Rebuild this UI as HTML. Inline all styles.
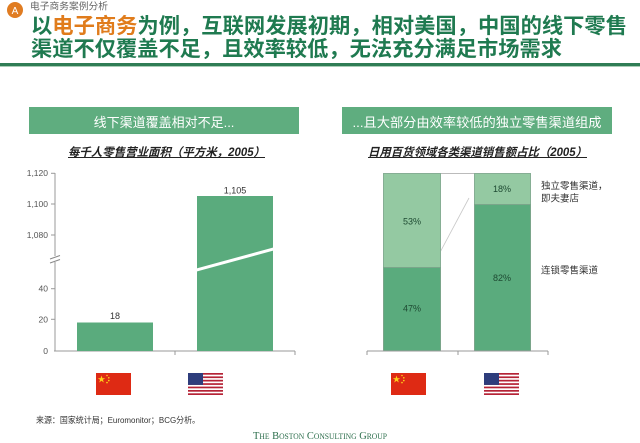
<!DOCTYPE html>
<html><head><meta charset="utf-8"><style>
html,body{margin:0;padding:0;background:#fff;}
svg{display:block;}
text{font-family:"Liberation Sans","Noto Sans CJK SC",sans-serif;}
</style></head><body>
<svg width="640" height="443" viewBox="0 0 640 443" xmlns="http://www.w3.org/2000/svg">
<rect width="640" height="443" fill="#fff"/>
<!-- header -->
<circle cx="15" cy="10" r="8" fill="#e07c22"/>
<text x="15" y="14" font-size="10" fill="#fff" text-anchor="middle">A</text>
<text x="30" y="9.5" font-size="9.8" fill="#666" textLength="78" lengthAdjust="spacingAndGlyphs">电子商务案例分析</text>
<text x="31" y="33" font-size="21" font-weight="bold" fill="#1f7a50" textLength="596" lengthAdjust="spacingAndGlyphs">以<tspan fill="#e07c1c">电子商务</tspan>为例，互联网发展初期，相对美国，中国的线下零售</text>
<text x="31" y="56" font-size="21" font-weight="bold" fill="#1f7a50" textLength="531" lengthAdjust="spacingAndGlyphs">渠道不仅覆盖不足，且效率较低，无法充分满足市场需求</text>
<rect x="0" y="63" width="640" height="3" fill="#2f7d55"/>
<rect x="0" y="66" width="640" height="1" fill="#a9cdb6"/>

<!-- section boxes -->
<rect x="29" y="107" width="270" height="27" fill="#5fad7f"/>
<text x="164" y="127" font-size="13" fill="#fff" text-anchor="middle">线下渠道覆盖相对不足...</text>
<rect x="342" y="107" width="270" height="27" fill="#5fad7f"/>
<text x="477" y="127" font-size="13" fill="#fff" text-anchor="middle" textLength="249" lengthAdjust="spacingAndGlyphs">...且大部分由效率较低的独立零售渠道组成</text>

<!-- subtitles -->
<text x="68" y="156" font-size="11.5" font-weight="bold" font-style="italic" fill="#222" textLength="197" lengthAdjust="spacingAndGlyphs">每千人零售营业面积（平方米，2005）</text>
<line x1="68" y1="157.5" x2="265" y2="157.5" stroke="#222" stroke-width="1"/>
<text x="368" y="156" font-size="11.5" font-weight="bold" font-style="italic" fill="#222" textLength="219" lengthAdjust="spacingAndGlyphs">日用百货领域各类渠道销售额占比（2005）</text>
<line x1="368" y1="157.5" x2="587" y2="157.5" stroke="#222" stroke-width="1"/>

<!-- left chart -->
<g font-size="8.5" fill="#555" text-anchor="end">
<text x="48" y="176">1,120</text>
<text x="48" y="207">1,100</text>
<text x="48" y="238">1,080</text>
<text x="48" y="291.5">40</text>
<text x="48" y="322.5">20</text>
<text x="48" y="354">0</text>
</g>
<g stroke="#999" stroke-width="1">
<line x1="55" y1="173" x2="55" y2="351"/>
<line x1="51" y1="173.3" x2="55" y2="173.3"/>
<line x1="51" y1="204" x2="55" y2="204"/>
<line x1="51" y1="235" x2="55" y2="235"/>
<line x1="51" y1="288.7" x2="55" y2="288.7"/>
<line x1="51" y1="319.3" x2="55" y2="319.3"/>
<line x1="54" y1="351" x2="295" y2="351"/>
<line x1="175" y1="351" x2="175" y2="355"/>
<line x1="295" y1="351" x2="295" y2="355"/>
</g>
<rect x="52" y="256" width="6" height="6" fill="#fff"/>
<line x1="50" y1="259" x2="60" y2="255.5" stroke="#888" stroke-width="1"/>
<line x1="50" y1="263" x2="60" y2="259.5" stroke="#888" stroke-width="1"/>

<rect x="77" y="322.5" width="76" height="28.5" fill="#5aab7d"/>
<rect x="197" y="196" width="76" height="155" fill="#5aab7d"/>
<line x1="194" y1="270.7" x2="276" y2="248.3" stroke="#fff" stroke-width="3"/>
<text x="115" y="319" font-size="9" fill="#333" text-anchor="middle">18</text>
<text x="235" y="193.5" font-size="9" fill="#333" text-anchor="middle">1,105</text>

<!-- right chart -->
<line x1="440" y1="173.5" x2="474" y2="173.5" stroke="#bbb" stroke-width="1"/>
<line x1="437" y1="258" x2="469" y2="198" stroke="#c8c8c8" stroke-width="0.8"/>
<rect x="383.5" y="173.5" width="57" height="94" fill="#94c9a2" stroke="#86ae94" stroke-width="1"/>
<rect x="383.5" y="267.5" width="57" height="83.5" fill="#5aab7d" stroke="#7aa58a" stroke-width="1"/>
<rect x="474.5" y="173.5" width="56" height="31" fill="#94c9a2" stroke="#86ae94" stroke-width="1"/>
<rect x="474.5" y="204.5" width="56" height="146.5" fill="#5aab7d" stroke="#7aa58a" stroke-width="1"/>
<g stroke="#999" stroke-width="1">
<line x1="367" y1="351" x2="548" y2="351"/>
<line x1="367" y1="351" x2="367" y2="355"/>
<line x1="458" y1="351" x2="458" y2="355"/>
<line x1="548" y1="351" x2="548" y2="355"/>
</g>
<g font-size="9" fill="#1e4a32" text-anchor="middle">
<text x="412" y="224.5">53%</text>
<text x="412" y="311.5">47%</text>
<text x="502" y="192">18%</text>
<text x="502" y="281">82%</text>
</g>
<g font-size="9.5" fill="#333">
<text x="541" y="189">独立零售渠道，</text>
<text x="541" y="201.5">即夫妻店</text>
<text x="541" y="273.5">连锁零售渠道</text>
</g>

<!-- flags -->
<defs>
<g id="cn">
<rect x="0" y="0" width="35" height="22" fill="#de2a14"/>
<polygon points="5.5,2.5 6.4,5.2 9.2,5.2 6.9,6.8 7.8,9.5 5.5,7.8 3.2,9.5 4.1,6.8 1.8,5.2 4.6,5.2" fill="#ffd21a"/>
<circle cx="11" cy="2.5" r="0.8" fill="#ffd21a"/>
<circle cx="12.8" cy="4.8" r="0.8" fill="#ffd21a"/>
<circle cx="12.8" cy="7.6" r="0.8" fill="#ffd21a"/>
<circle cx="11" cy="9.6" r="0.8" fill="#ffd21a"/>
</g>
<g id="us">
<rect x="0" y="0" width="35" height="22" fill="#fff"/>
<rect x="0" y="0" width="35" height="1.7" fill="#b52336"/>
<rect x="0" y="3.4" width="35" height="1.7" fill="#b52336"/>
<rect x="0" y="6.8" width="35" height="1.7" fill="#b52336"/>
<rect x="0" y="10.2" width="35" height="1.7" fill="#b52336"/>
<rect x="0" y="13.6" width="35" height="1.7" fill="#b52336"/>
<rect x="0" y="17" width="35" height="1.7" fill="#b52336"/>
<rect x="0" y="20.3" width="35" height="1.7" fill="#b52336"/>
<rect x="0" y="0" width="15" height="11.9" fill="#2e3d7c"/>
</g>
</defs>
<use href="#cn" x="96" y="373"/>
<use href="#us" x="188" y="373"/>
<use href="#cn" x="391" y="373"/>
<use href="#us" x="484" y="373"/>

<!-- footer -->
<text x="36" y="423" font-size="8.5" fill="#333" textLength="164" lengthAdjust="spacingAndGlyphs">来源：国家统计局；Euromonitor；BCG分析。</text>
<text x="253" y="439" font-size="11" fill="#2c6e4c" font-family="Liberation Serif, serif" style="font-family:'Liberation Serif',serif;font-variant:small-caps;" textLength="134" lengthAdjust="spacingAndGlyphs">The Boston Consulting Group</text>
</svg>
</body></html>
